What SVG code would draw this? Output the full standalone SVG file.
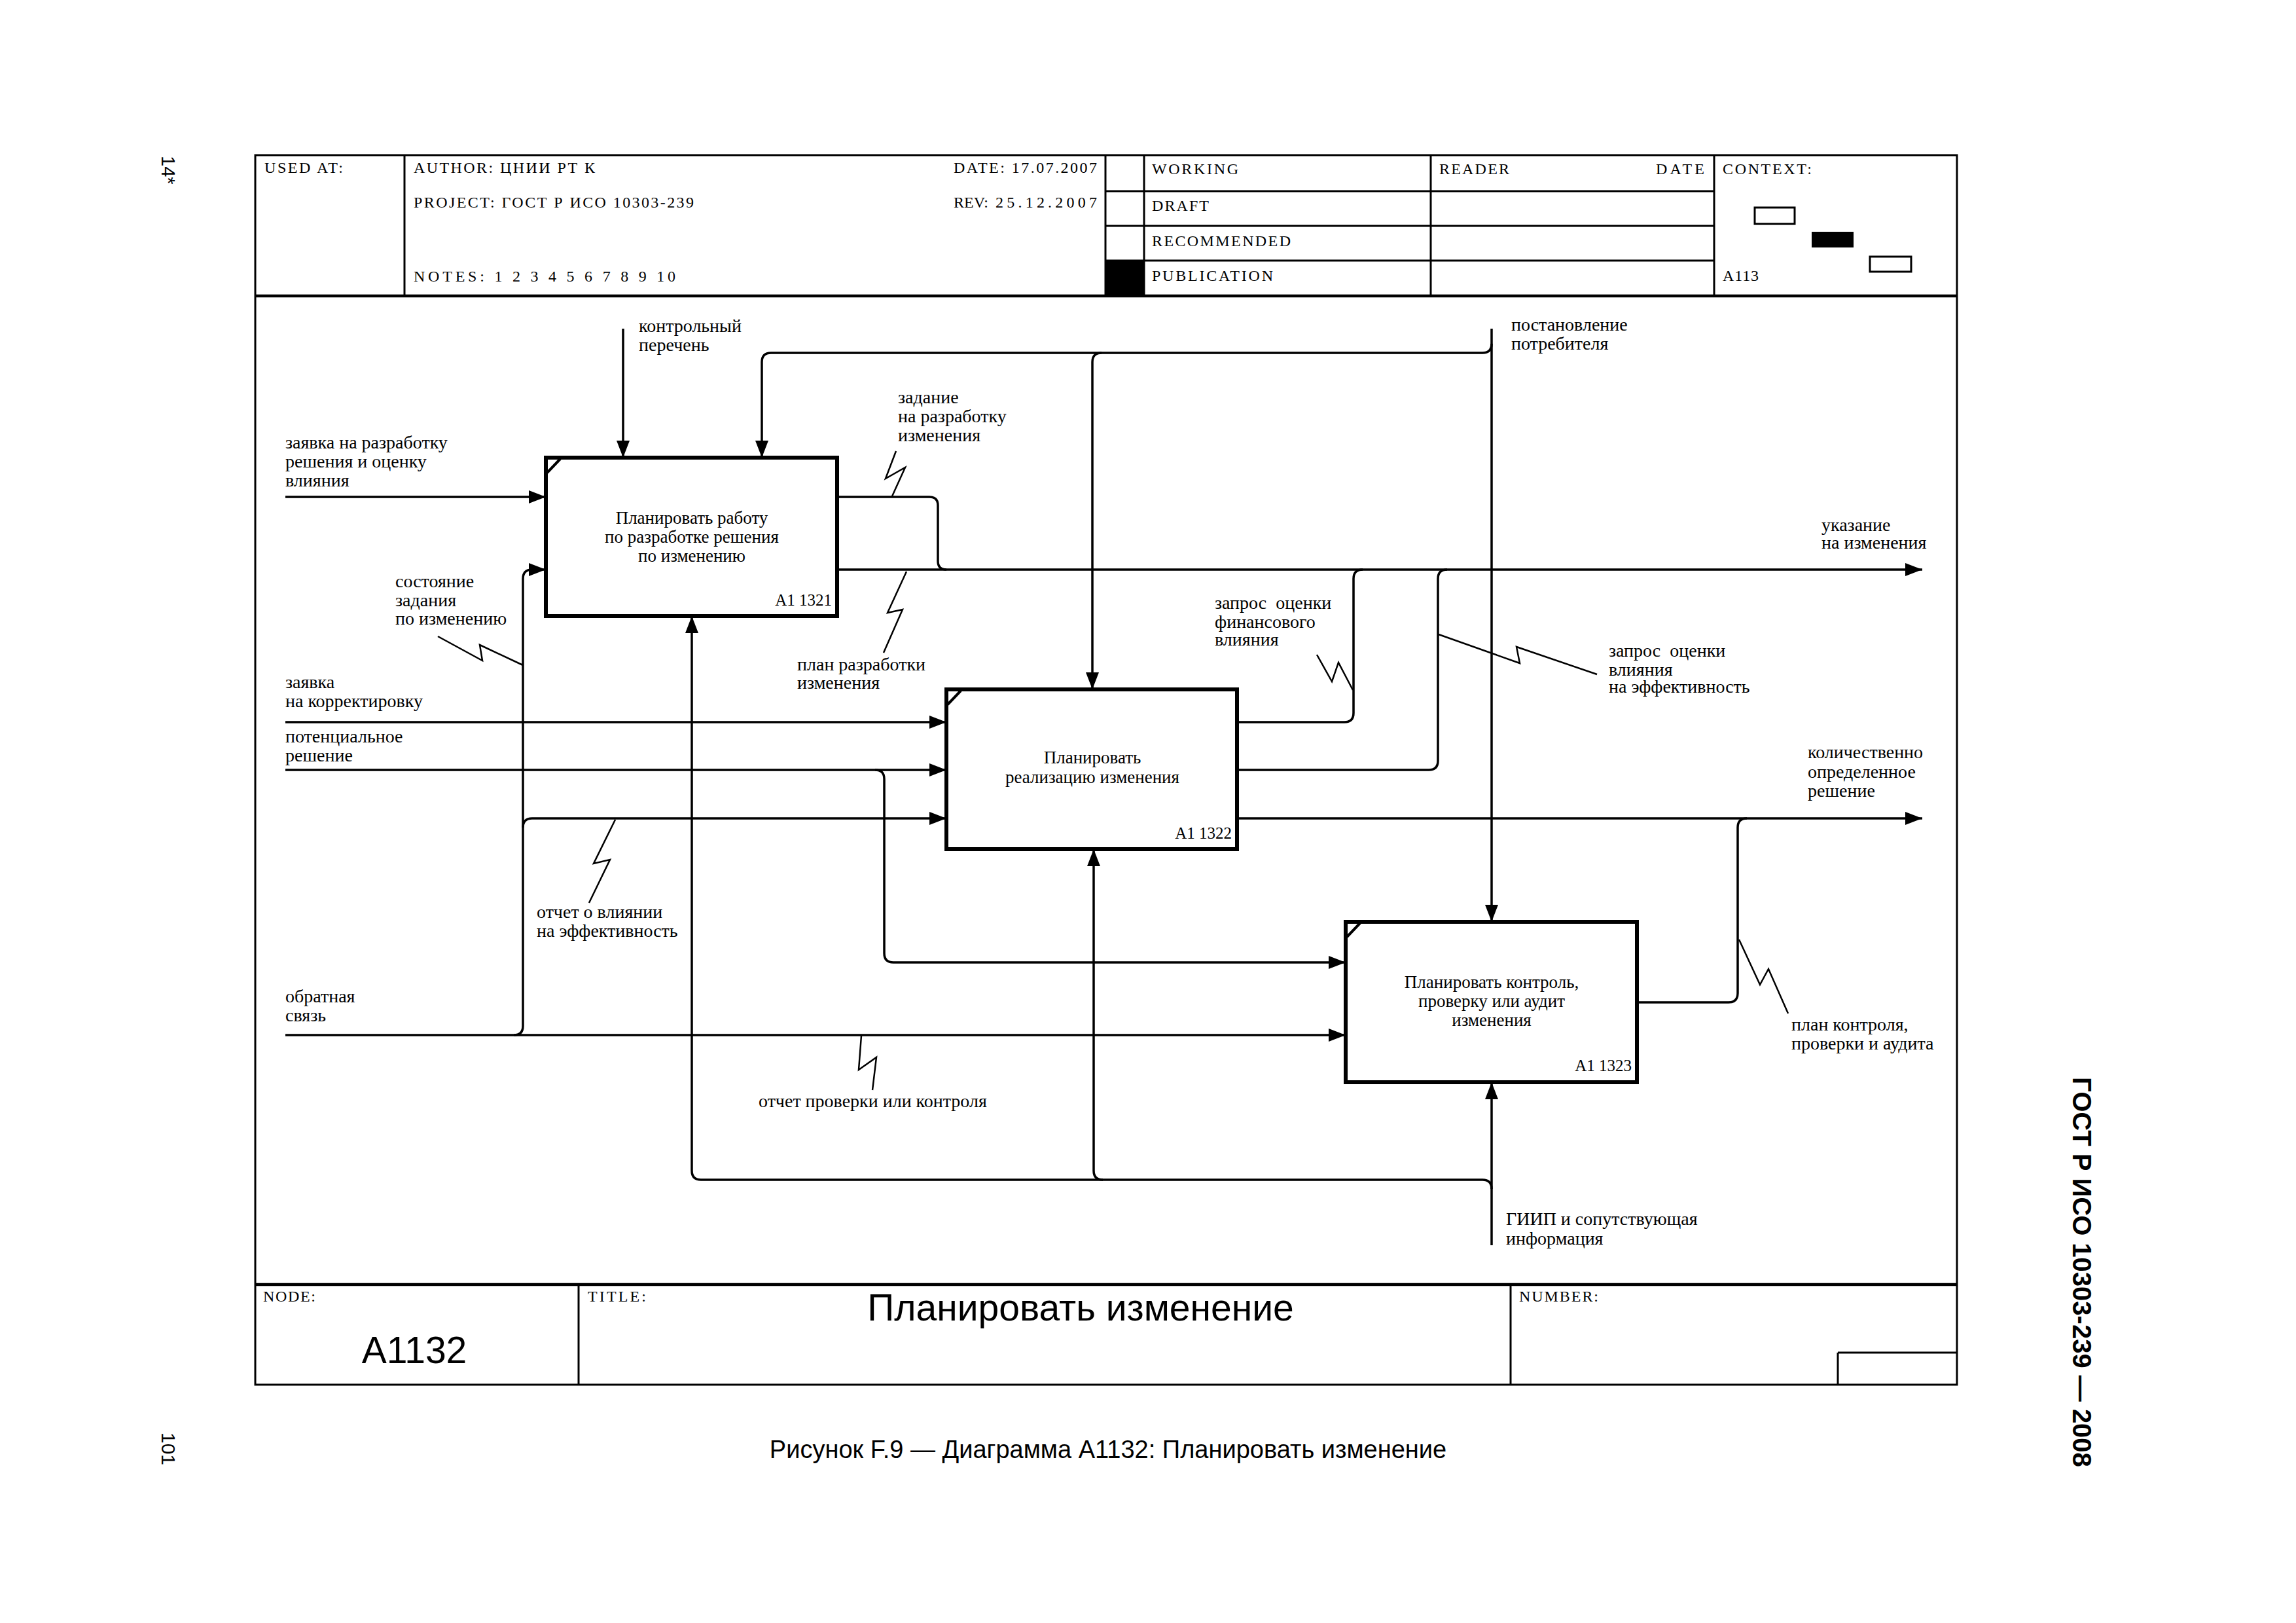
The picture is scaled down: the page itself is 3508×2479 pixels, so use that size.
<svg xmlns="http://www.w3.org/2000/svg" width="3508" height="2479" viewBox="0 0 3508 2479">
<style>
.frame{fill:none;stroke:#000;stroke-width:3}
.sep{fill:none;stroke:#000;stroke-width:4.5}
.thin{fill:none;stroke:#000;stroke-width:3}
.hdr{font-family:"Liberation Serif","Times New Roman",serif;font-size:24px;fill:#000}
.lbl{font-family:"Liberation Serif","Times New Roman",serif;font-size:28px;fill:#000}
.btxt{font-family:"Liberation Serif","Times New Roman",serif;font-size:27px;fill:#000;text-anchor:middle}
.bid{font-family:"Liberation Serif","Times New Roman",serif;font-size:25px;fill:#000;text-anchor:end}
.box{fill:#fff;stroke:#000;stroke-width:6}
.tick{stroke:#000;stroke-width:4}
.con{fill:none;stroke:#000;stroke-width:3.5}
.sq{fill:none;stroke:#000;stroke-width:2.5}
.sans{font-family:"Liberation Sans",Arial,sans-serif;fill:#000}
</style>
<defs>
<marker id="arr" markerUnits="userSpaceOnUse" markerWidth="28" markerHeight="22" refX="26" refY="10" orient="auto">
<path d="M0,0 L26,10 L0,20 Z" fill="#000"/>
</marker>
</defs>
<rect width="3508" height="2479" fill="#fff"/>

<g id="frame">
<rect class="frame" x="390" y="237" width="2600" height="1878"/>
<line class="sep" x1="390" y1="452" x2="2990" y2="452"/>
<line class="sep" x1="390" y1="1962" x2="2990" y2="1962"/>
<line class="thin" x1="618" y1="237" x2="618" y2="452"/>
<line class="thin" x1="1689" y1="237" x2="1689" y2="452"/>
<line class="thin" x1="1748" y1="237" x2="1748" y2="452"/>
<line class="thin" x1="2186" y1="237" x2="2186" y2="452"/>
<line class="thin" x1="2619" y1="237" x2="2619" y2="452"/>
<line class="thin" x1="1689" y1="292" x2="2619" y2="292"/>
<line class="thin" x1="1689" y1="345" x2="2619" y2="345"/>
<line class="thin" x1="1689" y1="398" x2="2619" y2="398"/>
<rect x="1689" y="398" width="59" height="54" fill="#000"/>
<rect x="2681" y="317" width="61" height="25" fill="#fff" stroke="#000" stroke-width="3"/>
<rect x="2768" y="354" width="64" height="24" fill="#000"/>
<rect x="2857" y="392" width="63" height="23" fill="#fff" stroke="#000" stroke-width="3"/>
<line class="thin" x1="884" y1="1962" x2="884" y2="2115"/>
<line class="thin" x1="2308" y1="1962" x2="2308" y2="2115"/>
<line class="thin" x1="2808" y1="2066" x2="2990" y2="2066"/>
<line class="thin" x1="2808" y1="2066" x2="2808" y2="2115"/>

<text class="hdr" x="404" y="264" textLength="120" lengthAdjust="spacing">USED AT:</text>
<text class="hdr" x="632" y="264" textLength="277" lengthAdjust="spacing">AUTHOR:  ЦНИИ РТ К</text>
<text class="hdr" x="632" y="317" textLength="428" lengthAdjust="spacing">PROJECT:  ГОСТ Р ИСО 10303-239</text>
<text class="hdr" x="632" y="430" textLength="400" lengthAdjust="spacing">NOTES:  1  2  3  4  5  6  7  8  9  10</text>
<text class="hdr" x="1457" y="264" textLength="219" lengthAdjust="spacing">DATE:  17.07.2007</text>
<text class="hdr" x="1457" y="317">REV:</text>
<text class="hdr" x="1521" y="317" textLength="155" lengthAdjust="spacing">25.12.2007</text>
<text class="hdr" x="1760" y="266" textLength="132" lengthAdjust="spacing">WORKING</text>
<text class="hdr" x="1760" y="322" textLength="87" lengthAdjust="spacing">DRAFT</text>
<text class="hdr" x="1760" y="376" textLength="212" lengthAdjust="spacing">RECOMMENDED</text>
<text class="hdr" x="1760" y="429" textLength="185" lengthAdjust="spacing">PUBLICATION</text>
<text class="hdr" x="2199" y="266" textLength="107" lengthAdjust="spacing">READER</text>
<text class="hdr" x="2530" y="266" textLength="74" lengthAdjust="spacing">DATE</text>
<text class="hdr" x="2632" y="266" textLength="136" lengthAdjust="spacing">CONTEXT:</text>
<text class="hdr" x="2632" y="429" textLength="55" lengthAdjust="spacing">A113</text>
<text class="hdr" x="402" y="1988" textLength="80" lengthAdjust="spacing">NODE:</text>
<text class="hdr" x="898" y="1988" textLength="89" lengthAdjust="spacing">TITLE:</text>
<text class="hdr" x="2321" y="1988" textLength="121" lengthAdjust="spacing">NUMBER:</text>
<text class="sans" x="633" y="2082" font-size="57" text-anchor="middle">A1132</text>
<text class="sans" x="1651" y="2017" font-size="57" text-anchor="middle">Планировать изменение</text>
</g>

<g id="connectors">
<path class="con" d="M952,502 V699" marker-end="url(#arr)"/>
<path class="con" d="M2279,502 V1408" marker-end="url(#arr)"/>
<path class="con" d="M2279,525 Q2279,539 2265,539 H1178 Q1164,539 1164,553 V699" marker-end="url(#arr)"/>
<path class="con" d="M1683,539 Q1669,539 1669,553 V1053" marker-end="url(#arr)"/>
<path class="con" d="M436,759 H834" marker-end="url(#arr)"/>
<path class="con" d="M1279,759 H1420 Q1433,759 1433,772 V857 Q1433,870 1446,870"/>
<path class="con" d="M1279,870 H2937" marker-end="url(#arr)"/>
<path class="con" d="M436,1581 H2056" marker-end="url(#arr)"/>
<path class="con" d="M785,1581 Q799,1581 799,1567 V884 Q799,870 813,870 H834" marker-end="url(#arr)"/>
<path class="con" d="M799,1264 Q799,1250 813,1250 H1446" marker-end="url(#arr)"/>
<path class="con" d="M436,1103 H1446" marker-end="url(#arr)"/>
<path class="con" d="M436,1176 H1446" marker-end="url(#arr)"/>
<path class="con" d="M1337,1176 Q1351,1176 1351,1190 V1456 Q1351,1470 1365,1470 H2056" marker-end="url(#arr)"/>
<path class="con" d="M1890,1103 H2054 Q2068,1103 2068,1089 V884 Q2068,870 2082,870"/>
<path class="con" d="M1890,1176 H2183 Q2197,1176 2197,1162 V884 Q2197,870 2211,870"/>
<path class="con" d="M1890,1250 H2937" marker-end="url(#arr)"/>
<path class="con" d="M2501,1531 H2641 Q2655,1531 2655,1517 V1264 Q2655,1250 2669,1250"/>
<path class="con" d="M2279,1902 V1653" marker-end="url(#arr)"/>
<path class="con" d="M2279,1816 Q2279,1802 2265,1802 H1071 Q1057,1802 1057,1788 V941" marker-end="url(#arr)"/>
<path class="con" d="M1685,1802 Q1671,1802 1671,1788 V1297" marker-end="url(#arr)"/>

<polyline class="sq" points="1369,689 1353,731 1383,714 1363,758"/>
<polyline class="sq" points="1385,873 1356,936 1379,931 1350,997"/>
<polyline class="sq" points="669,972 737,1009 733,985 799,1016"/>
<polyline class="sq" points="2012,1000 2035,1041 2045,1012 2067,1054"/>
<polyline class="sq" points="2198,969 2322,1013 2317,988 2440,1030"/>
<polyline class="sq" points="940,1252 907,1319 932,1313 900,1379"/>
<polyline class="sq" points="1316,1582 1312,1634 1339,1615 1333,1665"/>
<polyline class="sq" points="2657,1435 2689,1504 2702,1480 2732,1548"/>

<text class="lbl" x="976" y="507">контрольный</text>
<text class="lbl" x="976" y="536">перечень</text>
<text class="lbl" x="2309" y="505">постановление</text>
<text class="lbl" x="2309" y="534">потребителя</text>
<text class="lbl" x="436" y="685">заявка на разработку</text>
<text class="lbl" x="436" y="714">решения и оценку</text>
<text class="lbl" x="436" y="743">влияния</text>
<text class="lbl" x="1372" y="616">задание</text>
<text class="lbl" x="1372" y="645">на разработку</text>
<text class="lbl" x="1372" y="674">изменения</text>
<text class="lbl" x="2783" y="811">указание</text>
<text class="lbl" x="2783" y="838">на изменения</text>
<text class="lbl" x="604" y="897">состояние</text>
<text class="lbl" x="604" y="926">задания</text>
<text class="lbl" x="604" y="954">по изменению</text>
<text class="lbl" x="1218" y="1024">план разработки</text>
<text class="lbl" x="1218" y="1052">изменения</text>
<text class="lbl" x="1856" y="930" xml:space="preserve">запрос  оценки</text>
<text class="lbl" x="1856" y="959">финансового</text>
<text class="lbl" x="1856" y="986">влияния</text>
<text class="lbl" x="2458" y="1003" xml:space="preserve">запрос  оценки</text>
<text class="lbl" x="2458" y="1032">влияния</text>
<text class="lbl" x="2458" y="1058">на эффективность</text>
<text class="lbl" x="436" y="1051">заявка</text>
<text class="lbl" x="436" y="1080">на корректировку</text>
<text class="lbl" x="436" y="1134">потенциальное</text>
<text class="lbl" x="436" y="1163">решение</text>
<text class="lbl" x="2762" y="1158">количественно</text>
<text class="lbl" x="2762" y="1188">определенное</text>
<text class="lbl" x="2762" y="1217">решение</text>
<text class="lbl" x="820" y="1402">отчет о влиянии</text>
<text class="lbl" x="820" y="1431">на эффективность</text>
<text class="lbl" x="436" y="1531">обратная</text>
<text class="lbl" x="436" y="1560">связь</text>
<text class="lbl" x="2737" y="1574">план контроля,</text>
<text class="lbl" x="2737" y="1603">проверки и аудита</text>
<text class="lbl" x="1159" y="1691">отчет проверки или контроля</text>
<text class="lbl" x="2301" y="1871">ГИИП и сопутствующая</text>
<text class="lbl" x="2301" y="1901">информация</text>
</g>

<g id="node-A11321">
<rect class="box" x="834" y="699" width="445" height="242"/>
<line class="tick" x1="836" y1="722" x2="856" y2="701"/>
<text class="btxt" x="1057" y="800">Планировать работу</text>
<text class="btxt" x="1057" y="829">по разработке решения</text>
<text class="btxt" x="1057" y="858">по изменению</text>
<text class="bid" x="1271" y="925">A1 1321</text>
</g>

<g id="node-A11322">
<rect class="box" x="1446" y="1053" width="444" height="244"/>
<line class="tick" x1="1448" y1="1076" x2="1468" y2="1055"/>
<text class="btxt" x="1669" y="1166">Планировать</text>
<text class="btxt" x="1669" y="1196">реализацию изменения</text>
<text class="bid" x="1882" y="1281">A1 1322</text>
</g>

<g id="node-A11323">
<rect class="box" x="2056" y="1408" width="445" height="245"/>
<line class="tick" x1="2058" y1="1431" x2="2078" y2="1410"/>
<text class="btxt" x="2279" y="1509">Планировать контроль,</text>
<text class="btxt" x="2279" y="1538">проверку или аудит</text>
<text class="btxt" x="2279" y="1567">изменения</text>
<text class="bid" x="2493" y="1636">A1 1323</text>
</g>

<g id="page">
<text class="sans" x="1693" y="2227" font-size="38" text-anchor="middle">Рисунок F.9 — Диаграмма A1132: Планировать изменение</text>
<text class="sans" font-size="29" transform="translate(247,238) rotate(90)">14*</text>
<text class="sans" font-size="30" transform="translate(247,2188) rotate(90)">101</text>
<text class="sans" font-size="40" font-weight="bold" transform="translate(3167,1645) rotate(90)">ГОСТ Р ИСО 10303-239 — 2008</text>
</g>
</svg>
